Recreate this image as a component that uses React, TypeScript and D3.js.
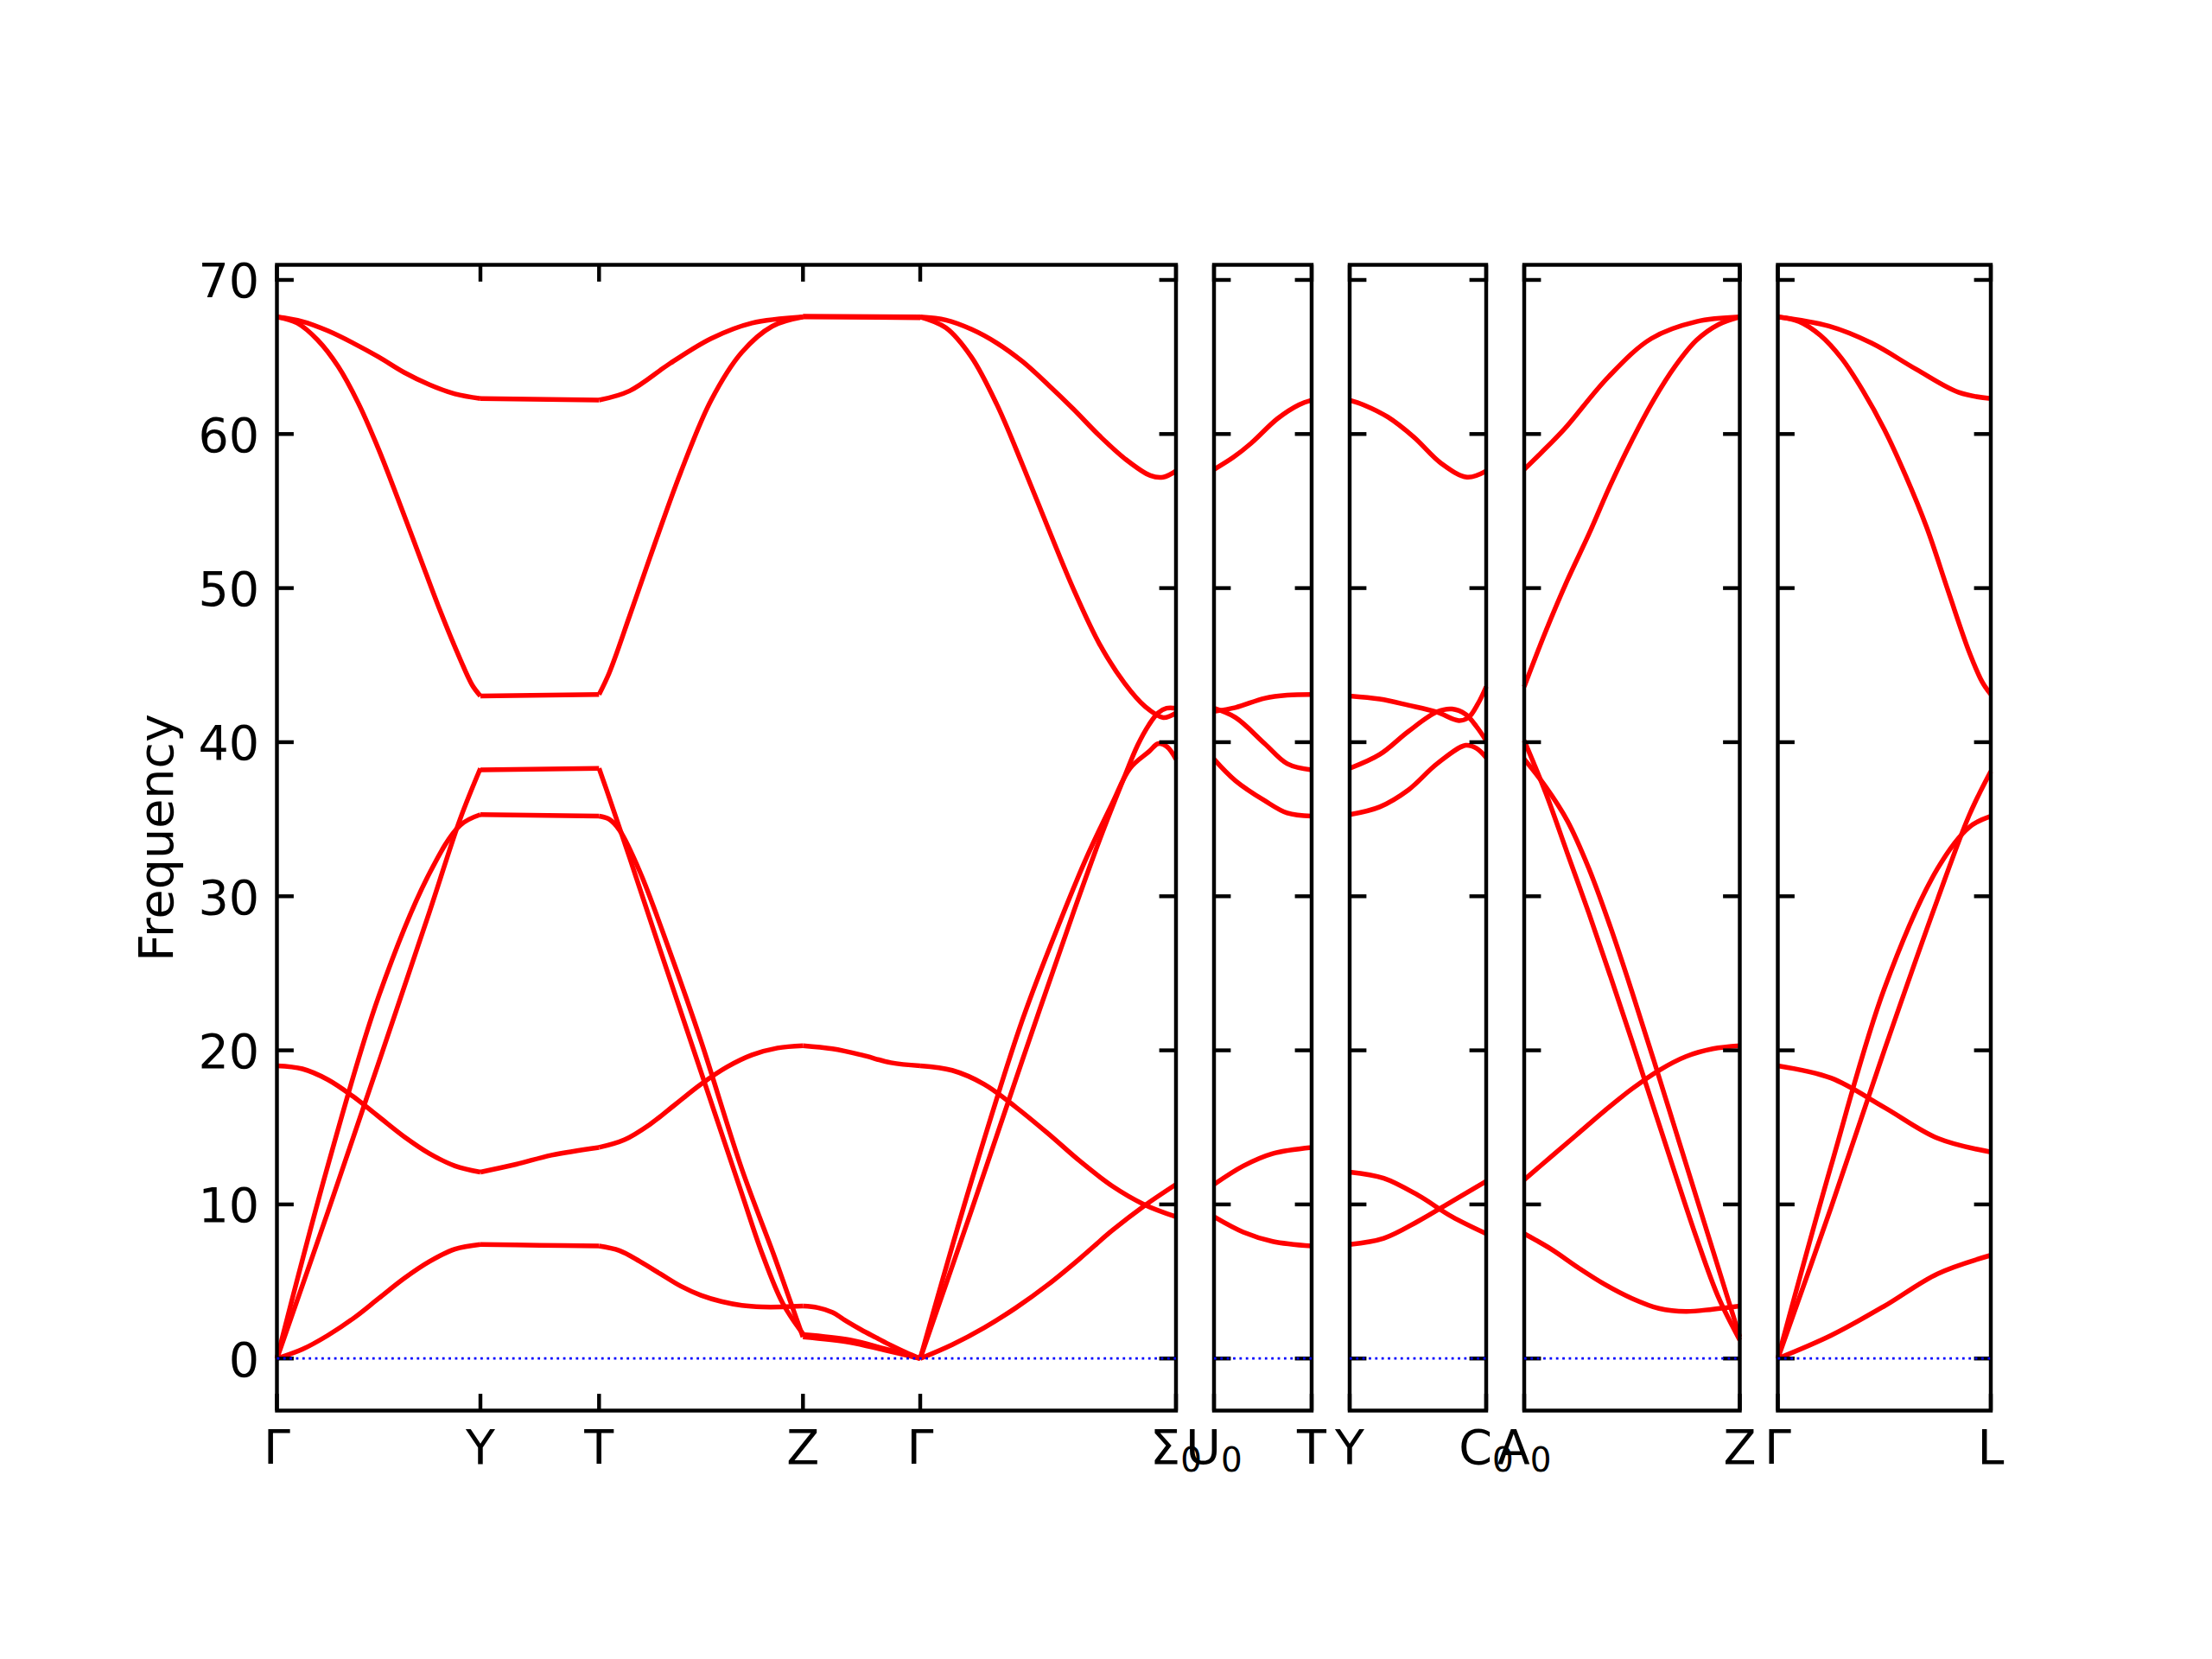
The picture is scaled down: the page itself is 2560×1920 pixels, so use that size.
import React, { useEffect, useRef } from "react";
import * as d3 from "d3";

const WIDTH = 2560;
const HEIGHT = 1920;
const FONT = "DejaVu Sans";
const FONT_SIZE = 55.56;

// frequency axis
const yTicks = [0, 10, 20, 30, 40, 50, 60, 70];
const yDomain = [-3.38, 70.98];

// high symmetry points for each panel and their distance along the path
const panelLabels = [
  ["Γ", "Y", "T", "Z", "Γ", "Σ_0"],
  ["U_0", "T"],
  ["Y", "C_0"],
  ["A_0", "Z"],
  ["Γ", "L"],
];
const panelTicks = [
  [0, 0.2355, 0.3728, 0.6088, 0.7445, 1.0405],
  [0, 0.113],
  [0, 0.158],
  [0, 0.2495],
  [0, 0.2465],
];

// bands of each segment, points are [fraction along segment, frequency]
const bandsGY = [
  [[0, 0], [0.125, 0.6], [0.25, 1.5], [0.375, 2.6], [0.5, 3.9], [0.625, 5.2], [0.75, 6.3], [0.875, 7.1], [1, 7.4]],
  [[0, 0], [0.25, 9.5], [0.5, 19.2], [0.75, 29.0], [0.9, 35.0], [1, 38.3]],
  [[0, 0], [0.25, 12.5], [0.5, 23.5], [0.75, 31.5], [0.9, 34.6], [1, 35.3]],
  [[0, 19.0], [0.125, 18.8], [0.25, 18.1], [0.375, 17.0], [0.5, 15.7], [0.625, 14.4], [0.75, 13.3], [0.875, 12.5], [1, 12.1]],
  [[0, 67.6], [0.1, 67.2], [0.2, 66.1], [0.3, 64.4], [0.4, 62.0], [0.5, 59.0], [0.6, 55.6], [0.7, 52.1], [0.8, 48.6], [0.9, 45.4], [0.96, 43.7], [1, 43.0]],
  [[0, 67.6], [0.125, 67.3], [0.25, 66.7], [0.375, 65.9], [0.5, 65.0], [0.625, 64.0], [0.75, 63.2], [0.875, 62.6], [1, 62.3]],
];
const bandsYT = [
  [[0, 7.4], [0.5, 7.35], [1, 7.3]],
  [[0, 12.1], [0.3, 12.6], [0.6, 13.2], [1, 13.7]],
  [[0, 35.3], [1, 35.2]],
  [[0, 38.2], [1, 38.3]],
  [[0, 43.0], [1, 43.1]],
  [[0, 62.3], [1, 62.2]],
];
const bandsTZ = [
  [[0, 7.3], [0.1, 7.0], [0.2, 6.3], [0.3, 5.5], [0.4, 4.7], [0.5, 4.1], [0.6, 3.7], [0.7, 3.45], [0.8, 3.35], [0.9, 3.35], [1, 3.4]],
  [[0, 13.7], [0.125, 14.2], [0.25, 15.2], [0.375, 16.5], [0.5, 17.8], [0.625, 18.9], [0.75, 19.7], [0.875, 20.15], [1, 20.3]],
  [[0, 38.3], [0.05, 36.4], [0.15, 32.5], [0.3, 26.5], [0.5, 18.6], [0.7, 10.7], [0.8, 6.8], [0.9, 3.6], [1, 1.6]],
  [[0, 35.2], [0.05, 35.0], [0.1, 34.3], [0.2, 31.6], [0.35, 26.3], [0.5, 20.6], [0.7, 12.3], [0.855, 6.8], [0.93, 4.0], [1, 1.4]],
  [[0, 43.1], [0.05, 44.5], [0.15, 48.2], [0.25, 52.0], [0.4, 57.5], [0.55, 62.2], [0.7, 65.3], [0.85, 67.0], [1, 67.6]],
  [[0, 62.2], [0.15, 62.8], [0.35, 64.6], [0.55, 66.2], [0.75, 67.2], [1, 67.6]],
];
const bandsZG = [
  [[0, 67.65], [1, 67.6]],
  [[0, 67.6], [1, 67.55]],
  [[0, 20.3], [0.25, 20.1], [0.5, 19.7], [0.75, 19.2], [1, 19.0]],
  [[0, 3.4], [0.125, 3.3], [0.25, 3.0], [0.375, 2.4], [0.5, 1.85], [0.625, 1.35], [0.75, 0.85], [0.875, 0.4], [1, 0]],
  [[0, 1.55], [0.4, 1.2], [0.69, 0.65], [1, 0]],
  [[0, 1.4], [0.4, 1.05], [0.69, 0.55], [1, 0]],
];
const bandsGS = [
  [[0, 0], [0.125, 0.9], [0.25, 2.0], [0.375, 3.3], [0.5, 4.8], [0.625, 6.5], [0.75, 8.3], [0.875, 9.9], [1, 11.3]],
  [[0, 19.0], [0.125, 18.7], [0.25, 17.8], [0.375, 16.3], [0.5, 14.6], [0.625, 12.8], [0.75, 11.2], [0.875, 10.0], [1, 9.2]],
  [[0, 0], [0.2, 11.5], [0.4, 22.0], [0.55, 28.5], [0.65, 32.5], [0.75, 36.0], [0.82, 38.3], [0.895, 39.4], [0.93, 39.9], [0.965, 39.7], [1, 38.9]],
  [[0, 0], [0.2, 9.6], [0.4, 19.4], [0.6, 29.0], [0.7, 33.6], [0.79, 37.4], [0.85, 39.8], [0.895, 41.15], [0.93, 41.9], [0.963, 42.2], [1, 42.2]],
  [[0, 67.6], [0.1, 66.9], [0.2, 65.0], [0.3, 61.9], [0.4, 58.0], [0.5, 53.9], [0.6, 49.9], [0.7, 46.4], [0.8, 43.8], [0.88, 42.3], [0.95, 41.6], [1, 41.9]],
  [[0, 67.6], [0.1, 67.4], [0.2, 66.8], [0.3, 65.9], [0.4, 64.7], [0.5, 63.2], [0.6, 61.6], [0.7, 59.9], [0.8, 58.4], [0.9, 57.3], [0.95, 57.2], [1, 57.6]],
];
const bandsUT = [
  [[0, 57.7], [0.2, 58.5], [0.38, 59.4], [0.65, 61.0], [0.87, 61.9], [1, 62.2]],
  [[0, 42.0], [0.22, 42.25], [0.52, 42.85], [0.75, 43.05], [1, 43.1]],
  [[0, 42.2], [0.22, 41.6], [0.52, 39.9], [0.75, 38.6], [1, 38.2]],
  [[0, 38.9], [0.22, 37.5], [0.52, 36.2], [0.75, 35.4], [1, 35.2]],
  [[0, 11.3], [0.3, 12.5], [0.6, 13.3], [1, 13.7]],
  [[0, 9.2], [0.3, 8.2], [0.6, 7.6], [1, 7.3]],
];
const bandsYC = [
  [[0, 62.2], [0.1, 61.9], [0.28, 61.1], [0.47, 59.8], [0.67, 58.1], [0.86, 57.2], [1, 57.6]],
  [[0, 43.0], [0.22, 42.8], [0.43, 42.4], [0.64, 41.95], [0.8, 41.4], [0.87, 41.6], [0.94, 42.5], [1, 43.6]],
  [[0, 38.3], [0.22, 39.2], [0.43, 40.7], [0.64, 41.97], [0.75, 42.15], [0.85, 41.8], [0.93, 41.0], [1, 40.1]],
  [[0, 35.3], [0.22, 35.8], [0.43, 36.9], [0.64, 38.6], [0.85, 39.8], [0.93, 39.6], [1, 39.0]],
  [[0, 12.1], [0.25, 11.7], [0.5, 10.6], [0.75, 9.2], [1, 8.1]],
  [[0, 7.4], [0.25, 7.8], [0.5, 8.9], [0.75, 10.2], [1, 11.5]],
];
const bandsAZ = [
  [[0, 57.7], [0.08, 58.8], [0.185, 60.3], [0.39, 63.7], [0.59, 66.2], [0.8, 67.3], [1, 67.6]],
  [[0, 43.6], [0.1, 47.2], [0.2, 50.5], [0.3, 53.5], [0.4, 56.7], [0.5, 59.6], [0.6, 62.2], [0.7, 64.4], [0.8, 66.1], [0.9, 67.1], [1, 67.6]],
  [[0, 40.1], [0.1, 36.7], [0.2, 32.8], [0.3, 28.9], [0.4, 24.8], [0.5, 20.6], [0.6, 16.3], [0.7, 12.0], [0.8, 7.8], [0.9, 4.0], [1, 1.2]],
  [[0, 38.9], [0.1, 37.1], [0.2, 34.9], [0.3, 31.8], [0.4, 28.0], [0.5, 23.8], [0.6, 19.4], [0.7, 14.9], [0.8, 10.4], [0.9, 5.9], [1, 1.4]],
  [[0, 11.6], [0.125, 13.1], [0.25, 14.6], [0.375, 16.1], [0.5, 17.5], [0.625, 18.7], [0.75, 19.6], [0.875, 20.1], [1, 20.3]],
  [[0, 8.1], [0.125, 7.1], [0.25, 5.9], [0.375, 4.8], [0.5, 3.9], [0.625, 3.25], [0.75, 3.05], [0.875, 3.2], [1, 3.4]],
];
const bandsGL = [
  [[0, 67.6], [0.24, 67.0], [0.44, 65.9], [0.65, 64.2], [0.85, 62.7], [1, 62.3]],
  [[0, 67.6], [0.1, 67.3], [0.2, 66.4], [0.3, 64.9], [0.4, 62.8], [0.5, 60.3], [0.6, 57.3], [0.7, 53.9], [0.8, 49.8], [0.9, 45.8], [0.96, 43.9], [1, 43.1]],
  [[0, 0], [0.25, 12.5], [0.5, 24.0], [0.75, 31.8], [0.9, 34.5], [1, 35.2]],
  [[0, 0], [0.25, 9.8], [0.5, 20.0], [0.75, 29.8], [0.9, 35.3], [1, 38.1]],
  [[0, 19.0], [0.25, 18.2], [0.5, 16.3], [0.75, 14.3], [1, 13.4]],
  [[0, 0], [0.25, 1.5], [0.5, 3.4], [0.75, 5.5], [1, 6.7]],
];

// [panel, start tick, end tick, bands]
const segments: [number, number, number, number[][][]][] = [
  [0, 0, 1, bandsGY],
  [0, 1, 2, bandsYT],
  [0, 2, 3, bandsTZ],
  [0, 3, 4, bandsZG],
  [0, 4, 5, bandsGS],
  [1, 0, 1, bandsUT],
  [2, 0, 1, bandsYC],
  [3, 0, 1, bandsAZ],
  [4, 0, 1, bandsGL],
];

const LEFT = 320.5;
const RIGHT = 2304;
const TOP = 306.5;
const BOTTOM = 1632.5;
const GAP = 44;
const TICK = 19.4;
const SPINE_W = 4.44;

function BandStructure() {
  const ref = useRef<SVGSVGElement>(null);

  useEffect(() => {
    const svg = d3.select(ref.current);
    svg.selectAll("*").remove();

    const y = d3.scaleLinear().domain(yDomain).range([BOTTOM, TOP]);

    // panel widths follow the path lengths
    const spans = panelTicks.map((t) => t[t.length - 1] - t[0]);
    const pxPer = (RIGHT - LEFT - GAP * (spans.length - 1)) / d3.sum(spans);
    let pos = LEFT;
    const xScales = spans.map((s, i) => {
      const sc = d3.scaleLinear()
        .domain([panelTicks[i][0], panelTicks[i][panelTicks[i].length - 1]])
        .range([pos, pos + s * pxPer]);
      pos += s * pxPer + GAP;
      return sc;
    });

    // bands
    const gBands = svg.append("g");
    segments.forEach(([p, a, b, bands]) => {
      const k0 = panelTicks[p][a];
      const k1 = panelTicks[p][b];
      const line = d3.line<number[]>()
        .x((d) => xScales[p](k0 + d[0] * (k1 - k0)))
        .y((d) => y(d[1]))
        .curve(d3.curveCatmullRom.alpha(0.5));
      bands.forEach((band) => {
        gBands.append("path")
          .attr("d", line(band))
          .attr("fill", "none")
          .attr("stroke", "#ff0000")
          .attr("stroke-width", 5.5)
          .attr("stroke-linejoin", "round");
      });
    });

    xScales.forEach((xs, i) => {
      const [r0, r1] = xs.range();
      const g = svg.append("g");

      g.append("rect")
        .attr("x", r0)
        .attr("y", TOP)
        .attr("width", r1 - r0)
        .attr("height", BOTTOM - TOP)
        .attr("fill", "none")
        .attr("stroke", "black")
        .attr("stroke-width", SPINE_W);

      // y ticks on both sides, pointing in
      yTicks.forEach((v) => {
        g.append("line")
          .attr("x1", r0).attr("x2", r0 + TICK)
          .attr("y1", y(v)).attr("y2", y(v))
          .attr("stroke", "black").attr("stroke-width", SPINE_W);
        g.append("line")
          .attr("x1", r1 - TICK).attr("x2", r1)
          .attr("y1", y(v)).attr("y2", y(v))
          .attr("stroke", "black").attr("stroke-width", SPINE_W);
      });

      // x ticks top and bottom
      panelTicks[i].forEach((k) => {
        g.append("line")
          .attr("x1", xs(k)).attr("x2", xs(k))
          .attr("y1", BOTTOM).attr("y2", BOTTOM - TICK)
          .attr("stroke", "black").attr("stroke-width", SPINE_W);
        g.append("line")
          .attr("x1", xs(k)).attr("x2", xs(k))
          .attr("y1", TOP).attr("y2", TOP + TICK)
          .attr("stroke", "black").attr("stroke-width", SPINE_W);
      });

      // zero line
      g.append("line")
        .attr("x1", r0).attr("x2", r1)
        .attr("y1", y(0)).attr("y2", y(0))
        .attr("stroke", "#0000ff")
        .attr("stroke-width", 2.78)
        .attr("stroke-dasharray", "2.78 4.58");

      // point labels
      panelLabels[i].forEach((lab, j) => {
        const [main, sub] = lab.split("_");
        const t = g.append("text")
          .attr("x", xs(panelTicks[i][j]))
          .attr("y", 1694)
          .attr("text-anchor", "middle")
          .attr("font-family", FONT)
          .attr("font-size", FONT_SIZE)
          .attr("fill", "black");
        t.append("tspan").text(main);
        if (sub) {
          t.append("tspan")
            .attr("dy", 8.5)
            .attr("font-size", FONT_SIZE * 0.7)
            .text(sub);
        }
      });

      if (i === 0) {
        yTicks.forEach((v) => {
          g.append("text")
            .attr("x", r0 - TICK - 1)
            .attr("y", y(v) + 20.5)
            .attr("text-anchor", "end")
            .attr("font-family", FONT)
            .attr("font-size", FONT_SIZE)
            .attr("fill", "black")
            .text(v);
        });
      }
    });

    svg.append("text")
      .attr("transform", `translate(200, ${(TOP + BOTTOM) / 2}) rotate(-90)`)
      .attr("text-anchor", "middle")
      .attr("font-family", FONT)
      .attr("font-size", FONT_SIZE)
      .attr("fill", "black")
      .text("Frequency");
  }, []);

  return (
    <svg
      ref={ref}
      width={WIDTH}
      height={HEIGHT}
      style={{ position: "absolute", left: 0, top: 0, background: "white" }}
    />
  );
}

export default function App() {
  return <BandStructure />;
}
